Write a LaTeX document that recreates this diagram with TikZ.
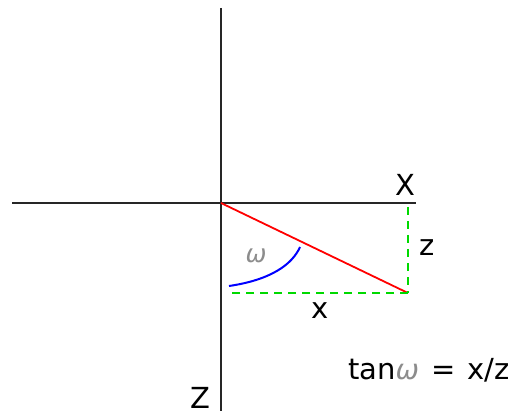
\documentclass[tikz,border=0pt]{standalone}
\usepackage{fontspec}
\setmainfont{DejaVu Sans}
\begin{document}
\begin{tikzpicture}[x=1pt,y=-1pt,
  axis/.style={line width=2.4pt,black!85},
  lbl/.style={font=\fontsize{29}{32}\selectfont,inner sep=0pt},
  om/.style={font=\fontsize{25}{28}\selectfont\itshape,text=black!45,inner sep=0pt}]
\useasboundingbox (0,0) rectangle (521,411);
\coordinate (top) at (221,8);
\coordinate (bot) at (221,411);
\coordinate (left) at (12,203);
\coordinate (right) at (416,203);
\coordinate (O) at (221,203);
\coordinate (P) at (408,293);
\coordinate (Q) at (408,207);
\coordinate (R) at (229,293);
\draw[axis] (top) -- (bot);
\draw[axis] (left) -- (right);
\draw[red,line width=1.8pt] (O) -- (P);
\draw[green!85!black,line width=2.2pt,dash pattern=on 8pt off 6pt] (Q) -- (P);
\draw[green!85!black,line width=2.2pt,dash pattern=on 8pt off 6pt] (P) -- (R);
\coordinate (a1) at (229,286);
\coordinate (a2) at (300,247);
\draw[blue,line width=2pt] (a1) .. controls (270,280) and (292,265) .. (a2);
\node[lbl] (lX) at (405,185) {X};
\node[lbl] (lz) at (427,248) {z};
\node[lbl] (lx) at (320,311) {x};
\node[lbl,anchor=base] (lZ) at (200,408) {Z};
\node[om] (lw) at (256,256) {ω};
\node[lbl,anchor=west] (eq) at (348,370) {tan\textcolor{black!45}{\fontsize{28}{30}\selectfont\itshape ω}\hspace{12pt}=\hspace{12pt}x/z};
\end{tikzpicture}
\end{document}
